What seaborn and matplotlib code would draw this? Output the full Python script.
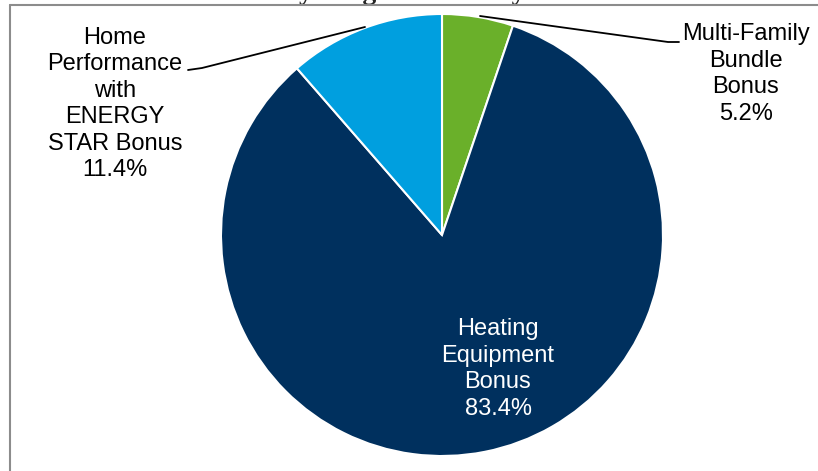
import matplotlib
matplotlib.use("Agg")
import matplotlib.pyplot as plt
from matplotlib.lines import Line2D
import seaborn as sns

# data (clockwise from 12 o'clock)
categories = ["Multi-Family\nBundle\nBonus", "Heating\nEquipment\nBonus",
              "Home\nPerformance\nwith\nENERGY\nSTAR Bonus"]
shares = [5.2, 83.4, 11.4]
colors = ["#6ab02a", "#00305e", "#009fdf"]
title = "Incentive Dollars by Program Activity"

sns.set_style("white")
plt.rcParams['font.family'] = ['Liberation Sans', 'DejaVu Sans']

W, H = 818, 471
cx, cy, r = 442, 235, 221  # pie centre / radius in pixels

def px(x, y):
    # pixel position -> data units (1 unit = pie radius)
    return (x - cx) / r, (cy - y) / r

fig = plt.figure(figsize=(W / 100, H / 100), dpi=100)
ax = fig.add_axes([0, 0, 1, 1])

wedges, _ = ax.pie(shares, colors=colors, startangle=90, counterclock=False,
                   radius=1, wedgeprops={'edgecolor': 'white', 'linewidth': 1.5})
ax.set_xlim(-cx / r, (W - cx) / r)
ax.set_ylim(-(H - cy) / r, cy / r)
ax.set_aspect('auto')
ax.axis('off')

labels = [f"{c}\n{s:.1f}%" for c, s in zip(categories, shares)]
fs = 17
ls = 1.27

# Multi-Family label + leader
ax.text(*px(746, 74), labels[0], ha='center', va='center', fontsize=fs,
        linespacing=ls, color='black')
ax.plot(*zip(px(480, 16), px(668, 42), px(679, 42)), color='black', lw=1.3)

# Heating label inside
ax.text(*px(498, 369), labels[1], ha='center', va='center', fontsize=fs,
        linespacing=ls, color='white')

# Home Performance label + leader
ax.text(*px(115, 104), labels[2], ha='center', va='center', fontsize=fs,
        linespacing=ls, color='black')
ax.plot(*zip(px(188, 70), px(202, 68), px(365, 27)), color='black', lw=1.3)

# chart frame, cut off by the image like the reference
top = 1 - 4.5 / H
left = 9.5 / W
fig.add_artist(Line2D([left, left], [0, top], transform=fig.transFigure,
                      color='#8c8c8c', lw=1.5, zorder=5))
fig.add_artist(Line2D([left, 1], [top, top], transform=fig.transFigure,
                      color='#8c8c8c', lw=1.5, zorder=5))
fig.text(300 / W, 1 + 0.5 / H, title, ha='center', va='baseline',
         fontsize=20, fontweight='bold', family=['Liberation Serif', 'DejaVu Serif'])

fig.savefig("out.png", dpi=100)
